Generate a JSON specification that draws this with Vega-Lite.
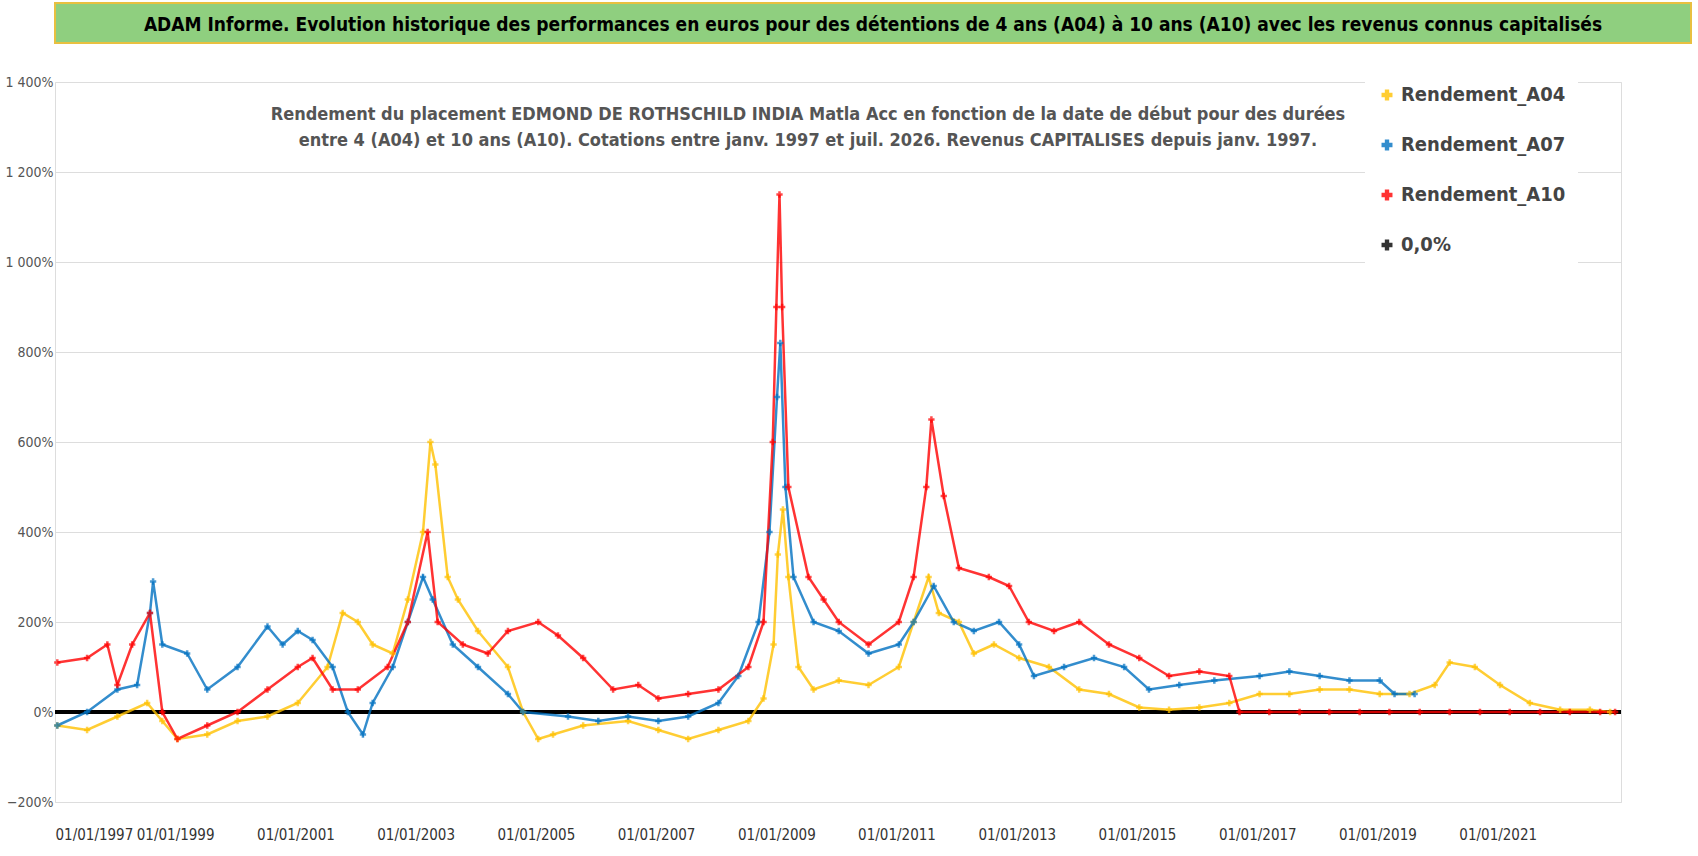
{
"$schema":"https://vega.github.io/schema/vega-lite/v6.json",
"background":"white",
"padding":{"left":4,"top":2,"right":4,"bottom":4},
"config":{"font":"DejaVu Sans Condensed","locale":{"number":{"decimal":",","thousands":" ","grouping":[3],"currency":["","€"]}},"concat":{"spacing":30}},
"datasets":{"pts":[
{"s":"Rendement_A04","d":"1997-01-15","v":-30},{"s":"Rendement_A04","d":"1997-07-15","v":-40},{"s":"Rendement_A04","d":"1998-01-15","v":-10},{"s":"Rendement_A04","d":"1998-07-15","v":20},{"s":"Rendement_A04","d":"1998-10-15","v":-20},{"s":"Rendement_A04","d":"1999-01-15","v":-60},{"s":"Rendement_A04","d":"1999-07-15","v":-50},{"s":"Rendement_A04","d":"2000-01-15","v":-20},{"s":"Rendement_A04","d":"2000-07-15","v":-10},{"s":"Rendement_A04","d":"2001-01-15","v":20},{"s":"Rendement_A04","d":"2001-07-15","v":100},{"s":"Rendement_A04","d":"2001-10-15","v":220},{"s":"Rendement_A04","d":"2002-01-15","v":200},{"s":"Rendement_A04","d":"2002-04-15","v":150},{"s":"Rendement_A04","d":"2002-08-15","v":130},{"s":"Rendement_A04","d":"2002-11-15","v":250},{"s":"Rendement_A04","d":"2003-02-15","v":400},{"s":"Rendement_A04","d":"2003-04-01","v":600},{"s":"Rendement_A04","d":"2003-05-01","v":550},{"s":"Rendement_A04","d":"2003-07-15","v":300},{"s":"Rendement_A04","d":"2003-09-15","v":250},{"s":"Rendement_A04","d":"2004-01-15","v":180},{"s":"Rendement_A04","d":"2004-07-15","v":100},{"s":"Rendement_A04","d":"2004-10-15","v":0},{"s":"Rendement_A04","d":"2005-01-15","v":-60},{"s":"Rendement_A04","d":"2005-04-15","v":-50},{"s":"Rendement_A04","d":"2005-10-15","v":-30},{"s":"Rendement_A04","d":"2006-07-15","v":-20},{"s":"Rendement_A04","d":"2007-01-15","v":-40},{"s":"Rendement_A04","d":"2007-07-15","v":-60},{"s":"Rendement_A04","d":"2008-01-15","v":-40},{"s":"Rendement_A04","d":"2008-07-15","v":-20},{"s":"Rendement_A04","d":"2008-10-15","v":30},{"s":"Rendement_A04","d":"2008-12-15","v":150},{"s":"Rendement_A04","d":"2009-01-10","v":350},{"s":"Rendement_A04","d":"2009-02-10","v":450},{"s":"Rendement_A04","d":"2009-03-15","v":300},{"s":"Rendement_A04","d":"2009-05-15","v":100},{"s":"Rendement_A04","d":"2009-08-15","v":50},{"s":"Rendement_A04","d":"2010-01-15","v":70},{"s":"Rendement_A04","d":"2010-07-15","v":60},{"s":"Rendement_A04","d":"2011-01-15","v":100},{"s":"Rendement_A04","d":"2011-04-15","v":200},{"s":"Rendement_A04","d":"2011-07-15","v":300},{"s":"Rendement_A04","d":"2011-09-15","v":220},{"s":"Rendement_A04","d":"2012-01-15","v":200},{"s":"Rendement_A04","d":"2012-04-15","v":130},{"s":"Rendement_A04","d":"2012-08-15","v":150},{"s":"Rendement_A04","d":"2013-01-15","v":120},{"s":"Rendement_A04","d":"2013-07-15","v":100},{"s":"Rendement_A04","d":"2014-01-15","v":50},{"s":"Rendement_A04","d":"2014-07-15","v":40},{"s":"Rendement_A04","d":"2015-01-15","v":10},{"s":"Rendement_A04","d":"2015-07-15","v":5},{"s":"Rendement_A04","d":"2016-01-15","v":10},{"s":"Rendement_A04","d":"2016-07-15","v":20},{"s":"Rendement_A04","d":"2017-01-15","v":40},{"s":"Rendement_A04","d":"2017-07-15","v":40},{"s":"Rendement_A04","d":"2018-01-15","v":50},{"s":"Rendement_A04","d":"2018-07-15","v":50},{"s":"Rendement_A04","d":"2019-01-15","v":40},{"s":"Rendement_A04","d":"2019-07-15","v":40},{"s":"Rendement_A04","d":"2019-12-15","v":60},{"s":"Rendement_A04","d":"2020-03-15","v":110},{"s":"Rendement_A04","d":"2020-08-15","v":100},{"s":"Rendement_A04","d":"2021-01-15","v":60},{"s":"Rendement_A04","d":"2021-07-15","v":20},{"s":"Rendement_A04","d":"2022-01-15","v":5},{"s":"Rendement_A04","d":"2022-07-15","v":5},{"s":"Rendement_A04","d":"2022-11-15","v":0},
{"s":"Rendement_A07","d":"1997-01-15","v":-30},{"s":"Rendement_A07","d":"1997-07-15","v":0},{"s":"Rendement_A07","d":"1998-01-15","v":50},{"s":"Rendement_A07","d":"1998-05-15","v":60},{"s":"Rendement_A07","d":"1998-08-01","v":220},{"s":"Rendement_A07","d":"1998-08-20","v":290},{"s":"Rendement_A07","d":"1998-10-15","v":150},{"s":"Rendement_A07","d":"1999-03-15","v":130},{"s":"Rendement_A07","d":"1999-07-15","v":50},{"s":"Rendement_A07","d":"2000-01-15","v":100},{"s":"Rendement_A07","d":"2000-07-15","v":190},{"s":"Rendement_A07","d":"2000-10-15","v":150},{"s":"Rendement_A07","d":"2001-01-15","v":180},{"s":"Rendement_A07","d":"2001-04-15","v":160},{"s":"Rendement_A07","d":"2001-08-15","v":100},{"s":"Rendement_A07","d":"2001-11-15","v":0},{"s":"Rendement_A07","d":"2002-02-15","v":-50},{"s":"Rendement_A07","d":"2002-04-15","v":20},{"s":"Rendement_A07","d":"2002-08-15","v":100},{"s":"Rendement_A07","d":"2002-11-15","v":200},{"s":"Rendement_A07","d":"2003-02-15","v":300},{"s":"Rendement_A07","d":"2003-04-15","v":250},{"s":"Rendement_A07","d":"2003-08-15","v":150},{"s":"Rendement_A07","d":"2004-01-15","v":100},{"s":"Rendement_A07","d":"2004-07-15","v":40},{"s":"Rendement_A07","d":"2004-10-15","v":0},{"s":"Rendement_A07","d":"2005-07-15","v":-10},{"s":"Rendement_A07","d":"2006-01-15","v":-20},{"s":"Rendement_A07","d":"2006-07-15","v":-10},{"s":"Rendement_A07","d":"2007-01-15","v":-20},{"s":"Rendement_A07","d":"2007-07-15","v":-10},{"s":"Rendement_A07","d":"2008-01-15","v":20},{"s":"Rendement_A07","d":"2008-05-15","v":80},{"s":"Rendement_A07","d":"2008-09-15","v":200},{"s":"Rendement_A07","d":"2008-11-20","v":400},{"s":"Rendement_A07","d":"2009-01-05","v":700},{"s":"Rendement_A07","d":"2009-01-25","v":820},{"s":"Rendement_A07","d":"2009-02-25","v":500},{"s":"Rendement_A07","d":"2009-04-15","v":300},{"s":"Rendement_A07","d":"2009-08-15","v":200},{"s":"Rendement_A07","d":"2010-01-15","v":180},{"s":"Rendement_A07","d":"2010-07-15","v":130},{"s":"Rendement_A07","d":"2011-01-15","v":150},{"s":"Rendement_A07","d":"2011-04-15","v":200},{"s":"Rendement_A07","d":"2011-08-15","v":280},{"s":"Rendement_A07","d":"2011-12-15","v":200},{"s":"Rendement_A07","d":"2012-04-15","v":180},{"s":"Rendement_A07","d":"2012-09-15","v":200},{"s":"Rendement_A07","d":"2013-01-15","v":150},{"s":"Rendement_A07","d":"2013-04-15","v":80},{"s":"Rendement_A07","d":"2013-10-15","v":100},{"s":"Rendement_A07","d":"2014-04-15","v":120},{"s":"Rendement_A07","d":"2014-10-15","v":100},{"s":"Rendement_A07","d":"2015-03-15","v":50},{"s":"Rendement_A07","d":"2015-09-15","v":60},{"s":"Rendement_A07","d":"2016-04-15","v":70},{"s":"Rendement_A07","d":"2017-01-15","v":80},{"s":"Rendement_A07","d":"2017-07-15","v":90},{"s":"Rendement_A07","d":"2018-01-15","v":80},{"s":"Rendement_A07","d":"2018-07-15","v":70},{"s":"Rendement_A07","d":"2019-01-15","v":70},{"s":"Rendement_A07","d":"2019-04-15","v":40},{"s":"Rendement_A07","d":"2019-08-15","v":40},
{"s":"Rendement_A10","d":"1997-01-15","v":110},{"s":"Rendement_A10","d":"1997-07-15","v":120},{"s":"Rendement_A10","d":"1997-11-15","v":150},{"s":"Rendement_A10","d":"1998-01-15","v":60},{"s":"Rendement_A10","d":"1998-04-15","v":150},{"s":"Rendement_A10","d":"1998-08-01","v":220},{"s":"Rendement_A10","d":"1998-10-15","v":0},{"s":"Rendement_A10","d":"1999-01-15","v":-60},{"s":"Rendement_A10","d":"1999-07-15","v":-30},{"s":"Rendement_A10","d":"2000-01-15","v":0},{"s":"Rendement_A10","d":"2000-07-15","v":50},{"s":"Rendement_A10","d":"2001-01-15","v":100},{"s":"Rendement_A10","d":"2001-04-15","v":120},{"s":"Rendement_A10","d":"2001-08-15","v":50},{"s":"Rendement_A10","d":"2002-01-15","v":50},{"s":"Rendement_A10","d":"2002-07-15","v":100},{"s":"Rendement_A10","d":"2002-11-15","v":200},{"s":"Rendement_A10","d":"2003-03-15","v":400},{"s":"Rendement_A10","d":"2003-05-15","v":200},{"s":"Rendement_A10","d":"2003-10-15","v":150},{"s":"Rendement_A10","d":"2004-03-15","v":130},{"s":"Rendement_A10","d":"2004-07-15","v":180},{"s":"Rendement_A10","d":"2005-01-15","v":200},{"s":"Rendement_A10","d":"2005-05-15","v":170},{"s":"Rendement_A10","d":"2005-10-15","v":120},{"s":"Rendement_A10","d":"2006-04-15","v":50},{"s":"Rendement_A10","d":"2006-09-15","v":60},{"s":"Rendement_A10","d":"2007-01-15","v":30},{"s":"Rendement_A10","d":"2007-07-15","v":40},{"s":"Rendement_A10","d":"2008-01-15","v":50},{"s":"Rendement_A10","d":"2008-07-15","v":100},{"s":"Rendement_A10","d":"2008-10-15","v":200},{"s":"Rendement_A10","d":"2008-12-10","v":600},{"s":"Rendement_A10","d":"2009-01-01","v":900},{"s":"Rendement_A10","d":"2009-01-20","v":1150},{"s":"Rendement_A10","d":"2009-02-05","v":900},{"s":"Rendement_A10","d":"2009-03-15","v":500},{"s":"Rendement_A10","d":"2009-07-15","v":300},{"s":"Rendement_A10","d":"2009-10-15","v":250},{"s":"Rendement_A10","d":"2010-01-15","v":200},{"s":"Rendement_A10","d":"2010-07-15","v":150},{"s":"Rendement_A10","d":"2011-01-15","v":200},{"s":"Rendement_A10","d":"2011-04-15","v":300},{"s":"Rendement_A10","d":"2011-07-01","v":500},{"s":"Rendement_A10","d":"2011-08-01","v":650},{"s":"Rendement_A10","d":"2011-10-15","v":480},{"s":"Rendement_A10","d":"2012-01-15","v":320},{"s":"Rendement_A10","d":"2012-07-15","v":300},{"s":"Rendement_A10","d":"2012-11-15","v":280},{"s":"Rendement_A10","d":"2013-03-15","v":200},{"s":"Rendement_A10","d":"2013-08-15","v":180},{"s":"Rendement_A10","d":"2014-01-15","v":200},{"s":"Rendement_A10","d":"2014-07-15","v":150},{"s":"Rendement_A10","d":"2015-01-15","v":120},{"s":"Rendement_A10","d":"2015-07-15","v":80},{"s":"Rendement_A10","d":"2016-01-15","v":90},{"s":"Rendement_A10","d":"2016-07-15","v":80},{"s":"Rendement_A10","d":"2016-09-15","v":0},{"s":"Rendement_A10","d":"2017-03-15","v":0},{"s":"Rendement_A10","d":"2017-09-15","v":0},{"s":"Rendement_A10","d":"2018-03-15","v":0},{"s":"Rendement_A10","d":"2018-09-15","v":0},{"s":"Rendement_A10","d":"2019-03-15","v":0},{"s":"Rendement_A10","d":"2019-09-15","v":0},{"s":"Rendement_A10","d":"2020-03-15","v":0},{"s":"Rendement_A10","d":"2020-09-15","v":0},{"s":"Rendement_A10","d":"2021-03-15","v":0},{"s":"Rendement_A10","d":"2021-09-15","v":0},{"s":"Rendement_A10","d":"2022-03-15","v":0},{"s":"Rendement_A10","d":"2022-09-15","v":0},{"s":"Rendement_A10","d":"2022-12-15","v":0}
]},
"vconcat":[
{"width":1636,"height":40,"view":{"fill":"#8fcf7f","stroke":"#e8c040","strokeWidth":2},
 "title":{"text":"ADAM Informe. Evolution historique des performances en euros pour des détentions de 4 ans (A04) à 10 ans (A10) avec les revenus connus capitalisés","fontSize":19,"fontWeight":"bold","color":"black","anchor":"middle","offset":-32,"baseline":"top","limit":1630},
 "mark":{"type":"text"},
 "encoding":{"text":{"datum":""}}},
{"width":1566,"height":720,
 "title":{"text":["Rendement du placement EDMOND DE ROTHSCHILD INDIA Matla Acc en fonction de la date de début pour des durées","entre 4 (A04) et 10 ans (A10).  Cotations entre janv. 1997 et juil. 2026. Revenus CAPITALISES  depuis janv. 1997."],"fontSize":18,"fontWeight":"bold","color":"#555","offset":-75,"anchor":"middle","dx":-30,"lineHeight":26},
 "layer":[
 {"data":{"values":[{"z":0}]},"mark":{"type":"rule","strokeWidth":4,"color":"black"},"encoding":{"y":{"field":"z","type":"quantitative","scale":{"domain":[-200,1400]}}}},
 {"data":{"name":"pts"},"mark":{"type":"line","strokeWidth":2.5,"opacity":0.8},
  "encoding":{"x":{"field":"d","type":"temporal"},"y":{"field":"v","type":"quantitative"},"color":{"field":"s","type":"nominal","scale":{"domain":["Rendement_A04","Rendement_A07","Rendement_A10","0,0%"],"range":["#ffc000","#0070c0","#ff0000","#000000"]},
    "legend":{"title":null,"orient":"none","legendX":1310,"legendY":70,"labelFontSize":20,"labelFontWeight":"bold","labelColor":"#444","labelLimit":300,"symbolType":"cross","symbolSize":120,"symbolStrokeWidth":0,"rowPadding":30,"fillColor":"white","padding":12}}}},
 {"data":{"name":"pts"},"mark":{"type":"point","shape":"cross","filled":true,"size":40},
  "encoding":{"x":{"field":"d","type":"temporal","scale":{"domain":["1997-01-01","2023-01-20"]},"title":null,
    "axis":{"format":"%d/%m/%Y","values":["1997-01-01","1999-01-01","2001-01-01","2003-01-01","2005-01-01","2007-01-01","2009-01-01","2011-01-01","2013-01-01","2015-01-01","2017-01-01","2019-01-01","2021-01-01"],"labelFontSize":15,"labelColor":"#333","grid":false,"domain":false,"ticks":false,"labelPadding":25}},
   "y":{"field":"v","type":"quantitative","scale":{"domain":[-200,1400]},"title":null,
    "axis":{"values":[-200,0,200,400,600,800,1000,1200,1400],"labelExpr":"format(datum.value, ',') + '%'","labelFontSize":14,"labelColor":"#555","grid":true,"gridColor":"#ddd","domain":false,"ticks":false}},
   "color":{"field":"s","type":"nominal","scale":{"domain":["Rendement_A04","Rendement_A07","Rendement_A10","0,0%"],"range":["#ffc000","#0070c0","#ff0000","#000000"]},
    "legend":{"title":null,"orient":"none","legendX":1310,"legendY":70,"labelFontSize":20,"labelFontWeight":"bold","labelColor":"#444","labelLimit":300,"symbolType":"cross","symbolSize":120,"symbolStrokeWidth":0,"rowPadding":30,"fillColor":"white","padding":12}}}}
 ]}
]}
